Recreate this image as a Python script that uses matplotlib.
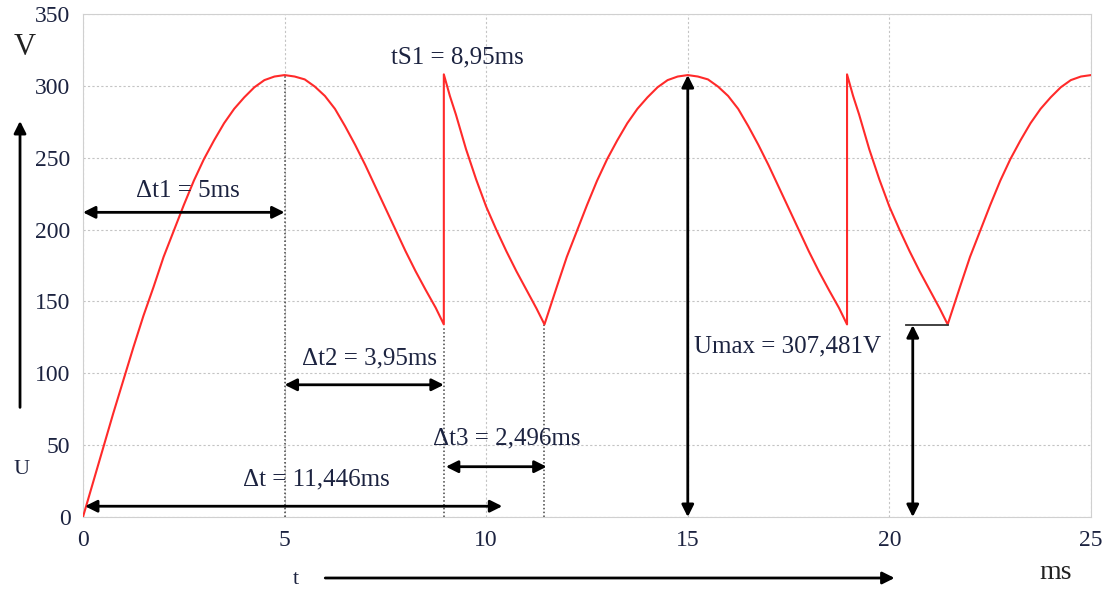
import matplotlib
matplotlib.use("Agg")
import matplotlib.pyplot as plt

plt.rcParams['font.family'] = ['Liberation Serif', 'DejaVu Serif']

# voltage curve (t in ms, U in V)
t_ms = [0.0, 0.25, 0.5, 0.75, 1.0, 1.25, 1.5, 1.75, 2.0, 2.25, 2.5, 2.75,
        3.0, 3.25, 3.5, 3.75, 4.0, 4.25, 4.5, 4.75, 5.0,
        5.25, 5.5, 5.75, 6.0, 6.25, 6.5, 6.75, 7.0, 7.25, 7.5, 7.75,
        8.0, 8.25, 8.5, 8.75, 8.95,
        8.95, 9.1, 9.25, 9.5, 9.75, 10.0, 10.25, 10.5, 10.75, 11.0, 11.25, 11.446,
        11.75, 12.0, 12.25, 12.5, 12.75, 13.0, 13.25, 13.5, 13.75, 14.0,
        14.25, 14.5, 14.75, 15.0,
        15.25, 15.5, 15.75, 16.0, 16.25, 16.5, 16.75, 17.0, 17.25, 17.5, 17.75,
        18.0, 18.25, 18.5, 18.75, 18.95,
        18.95, 19.1, 19.25, 19.5, 19.75, 20.0, 20.25, 20.5, 20.75, 21.0, 21.25, 21.446,
        21.75, 22.0, 22.25, 22.5, 22.75, 23.0, 23.25, 23.5, 23.75, 24.0,
        24.25, 24.5, 24.75, 25.0]
u_volt = [0, 24, 48, 72, 95, 118, 140, 160, 181, 199, 217, 234,
          249, 262, 274, 284, 292, 299, 304, 306.5, 307.5,
          306.5, 304.5, 299.5, 293, 284, 272, 259, 245, 230, 215, 200,
          185, 171, 158, 145.5, 134,
          308, 293, 280, 256, 235, 216, 200, 185, 171, 158, 145, 134,
          160, 181, 199, 217, 234, 249, 262, 274, 284, 292,
          299, 304, 306.5, 307.5,
          306.5, 304.5, 299.5, 293, 284, 272, 259, 245, 230, 215, 200,
          185, 171, 158, 145.5, 134,
          308, 293, 280, 256, 235, 216, 200, 185, 171, 158, 145, 134,
          160, 181, 199, 217, 234, 249, 262, 274, 284, 292,
          299, 304, 306.5, 307.5]

x_ticks = [0, 5, 10, 15, 20, 25]
y_ticks = [0, 50, 100, 150, 200, 250, 300, 350]

# horizontal interval arrows: (start, end, height, label, label_x, label_y)
h_arrows = [
    (0.0, 5.0, 212, "\u0394t1 = 5ms", 2.6, 227),
    (5.0, 8.95, 92, "\u0394t2 = 3,95ms", 7.1, 110),
    (9.0, 11.5, 35, "\u0394t3 = 2,496ms", 10.5, 55),
    (0.05, 10.4, 7.5, "\u0394t = 11,446ms", 5.8, 26),
]
marker_t = [5.0, 8.95, 11.446]
marker_u = [307.5, 133, 134]

txt = '#1c2340'

fig = plt.figure(figsize=(11.12, 5.91), dpi=100)
ax = fig.add_axes([0.0746, 0.1252, 0.9065, 0.8511])

ax.plot(t_ms, u_volt, color='#ff2a2a', lw=1.5, zorder=3)

ax.set_xlim(0, 25)
ax.set_ylim(0, 350)
ax.set_xticks(x_ticks)
ax.set_yticks(y_ticks)
ax.tick_params(length=0, labelsize=17, colors=txt, pad=9)
ax.grid(True, color='#c4c4c4', linestyle=(0, (2, 2)), lw=0.8)
ax.set_axisbelow(True)
for s in ax.spines.values():
    s.set_color('#d0d0d0')

for tm, um in zip(marker_t, marker_u):
    ax.plot([tm, tm], [0, um], color='#444444', lw=1.1, ls=(0, (1, 1.5)), zorder=2)

arr = dict(arrowstyle='<|-|>', color='black', lw=2, mutation_scale=18,
           shrinkA=0, shrinkB=0)
for x0, x1, h, lab, lx, ly in h_arrows:
    ax.annotate('', xy=(x1, h), xytext=(x0, h), arrowprops=arr, zorder=4)
    ax.text(lx, ly, lab, ha='center', va='center', fontsize=18, color=txt)

# Umax arrow
ax.annotate('', xy=(15.0, 0), xytext=(15.0, 307.5), arrowprops=arr, zorder=4)
ax.text(15.15, 119, "Umax = 307,481V", ha='left', va='center', fontsize=18, color=txt)

# ripple arrow at the right
ax.annotate('', xy=(20.58, 0), xytext=(20.58, 133.5), arrowprops=arr, zorder=4)
ax.plot([20.4, 21.45], [133.5, 133.5], color='#333333', lw=1.3, zorder=4)

ax.text(9.28, 320, "tS1 = 8,95ms", ha='center', va='center', fontsize=18, color=txt)

# outer axis labels and arrows
fig.text(0.0225, 0.92, "V", ha='center', va='center', fontsize=22, color='#222222')
fig.text(0.0198, 0.205, "U", ha='center', va='center', fontsize=16, color=txt)
fig.text(0.266, 0.019, "t", ha='center', va='center', fontsize=16, color=txt)
fig.text(0.949, 0.032, "ms", ha='center', va='center', fontsize=20, color='#222222')
fig.add_artist(matplotlib.patches.FancyArrowPatch(
    (0.018, 0.306), (0.018, 0.80), transform=fig.transFigure,
    arrowstyle='-|>', mutation_scale=18, color='black', lw=2))
fig.add_artist(matplotlib.patches.FancyArrowPatch(
    (0.29, 0.022), (0.807, 0.022), transform=fig.transFigure,
    arrowstyle='-|>', mutation_scale=18, color='black', lw=2))

fig.savefig('out.png', dpi=100)
